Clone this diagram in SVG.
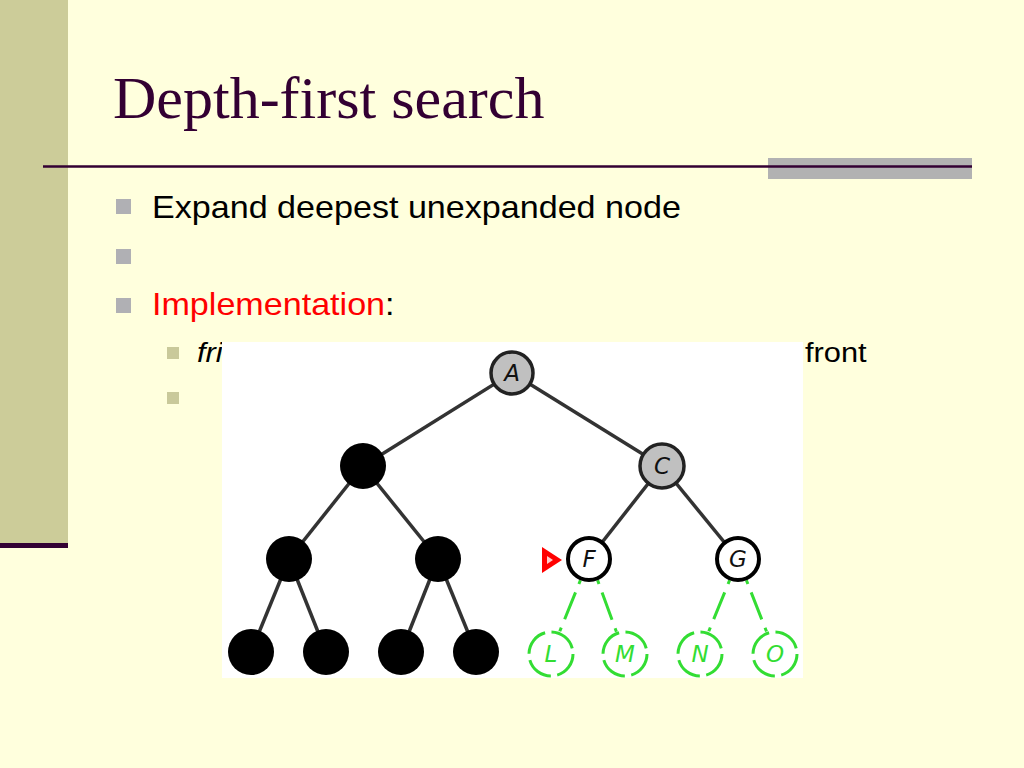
<svg xmlns="http://www.w3.org/2000/svg" width="1024" height="768" viewBox="0 0 1024 768">
<style>
.title{font-family:"Liberation Serif","Times New Roman",serif;font-size:60px;fill:#330033}
.l1{font-family:"Liberation Sans",Arial,sans-serif;font-size:31px;fill:#000}
.l2{font-family:"Liberation Sans",Arial,sans-serif;font-size:28px;fill:#000}
.b1{fill:#B0B0B4}
.b2{fill:#C9C99A}
.edge{stroke:#333;stroke-width:3.5;fill:none}
.gedge{stroke:#33DD33;stroke-width:3;fill:none;stroke-dasharray:4 9 29 9 4}
.done{fill:#000}
.gray{fill:#C0C0C0;stroke:#222;stroke-width:3.5}
.front{fill:#fff;stroke:#000;stroke-width:4}
.new{fill:#fff;stroke:#33DD33;stroke-width:3;stroke-dasharray:28 6.5}
.lbl{font-family:"DejaVu Sans","Liberation Sans",sans-serif;font-size:23px;font-style:italic;text-anchor:middle;fill:#111}
.glbl{font-family:"DejaVu Sans","Liberation Sans",sans-serif;font-size:23px;font-style:italic;text-anchor:middle;fill:#33DD33}
</style>
<rect x="0" y="0" width="1024" height="768" fill="#FFFFDD"/>
<rect x="0" y="0" width="68" height="545" fill="#CCCC99"/>
<rect x="0" y="543" width="68" height="5" fill="#330033"/>
<rect x="768" y="158" width="204" height="21" fill="#B2B2B2"/>
<line x1="43" y1="166.5" x2="972" y2="166.5" stroke="#330033" stroke-width="2.5"/>
<text class="title" x="113" y="118">Depth-first search</text>
<rect class="b1" x="116" y="199" width="15" height="15"/>
<rect class="b1" x="116" y="249" width="15" height="15"/>
<rect class="b1" x="116" y="298" width="15" height="15"/>
<text class="l1" transform="translate(152,218) scale(1.1,1)">Expand deepest unexpanded node</text>
<text class="l1" transform="translate(152,315) scale(1.1,1)"><tspan fill="#FF0000">Implementation</tspan>:</text>
<rect class="b2" x="167" y="347" width="12" height="12"/>
<rect class="b2" x="167" y="392" width="12" height="12"/>
<text class="l2" transform="translate(197,362) scale(1.1,1)" font-style="italic">fri</text>
<text class="l2" transform="translate(805,362) scale(1.1,1)">front</text>
<rect x="222" y="342" width="581" height="336" fill="#FFFFFF"/>
<g id="connectors">
<line class="edge" x1="512" y1="373" x2="363" y2="466"/>
<line class="edge" x1="512" y1="373" x2="662" y2="466"/>
<line class="edge" x1="363" y1="466" x2="289" y2="559"/>
<line class="edge" x1="363" y1="466" x2="438" y2="559"/>
<line class="edge" x1="289" y1="559" x2="251" y2="652"/>
<line class="edge" x1="289" y1="559" x2="326" y2="652"/>
<line class="edge" x1="438" y1="559" x2="401" y2="652"/>
<line class="edge" x1="438" y1="559" x2="476" y2="652"/>
<line class="edge" x1="662" y1="466" x2="589" y2="559"/>
<line class="edge" x1="662" y1="466" x2="738" y2="559"/>
<line class="gedge" x1="580.4" y1="580.3" x2="559.6" y2="631.7"/>
<line class="gedge" x1="597.6" y1="580.3" x2="616.4" y2="631.7"/>
<line class="gedge" x1="729.6" y1="580.3" x2="708.6" y2="631.7"/>
<line class="gedge" x1="746.4" y1="580.3" x2="766.6" y2="631.7"/>
</g>
<g id="node-A"><circle class="gray" cx="512" cy="373" r="21"/><text class="lbl" x="512" y="381">A</text></g>
<g id="node-B"><circle class="done" cx="363" cy="466" r="23"/></g>
<g id="node-C"><circle class="gray" cx="662" cy="466" r="22"/><text class="lbl" x="662" y="474">C</text></g>
<g id="node-D"><circle class="done" cx="289" cy="559" r="23"/></g>
<g id="node-E"><circle class="done" cx="438" cy="559" r="23"/></g>
<g id="node-F"><circle class="front" cx="589" cy="559" r="21"/><text class="lbl" x="589" y="567">F</text></g>
<g id="node-G"><circle class="front" cx="738" cy="559" r="21"/><text class="lbl" x="738" y="567">G</text></g>
<g id="node-H"><circle class="done" cx="251" cy="652" r="23"/></g>
<g id="node-I"><circle class="done" cx="326" cy="652" r="23"/></g>
<g id="node-J"><circle class="done" cx="401" cy="652" r="23"/></g>
<g id="node-K"><circle class="done" cx="476" cy="652" r="23"/></g>
<g id="node-L"><circle class="new" cx="551" cy="654" r="22"/><text class="glbl" x="551" y="662">L</text></g>
<g id="node-M"><circle class="new" cx="625" cy="654" r="22"/><text class="glbl" x="625" y="662">M</text></g>
<g id="node-N"><circle class="new" cx="700" cy="654" r="22"/><text class="glbl" x="700" y="662">N</text></g>
<g id="node-O"><circle class="new" cx="775" cy="654" r="22"/><text class="glbl" x="775" y="662">O</text></g>
<g id="pointer"><polygon points="542,547 542,573 562,560" fill="#FF0000"/><polygon points="547,556 547,564 553,560" fill="#FFCCCC"/></g>
</svg>
